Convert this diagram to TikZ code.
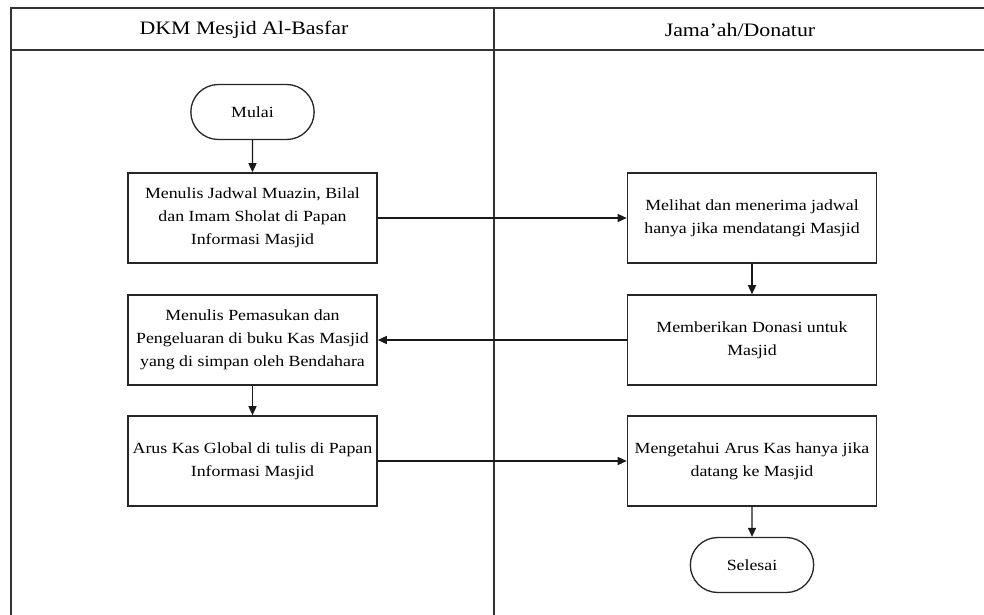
\documentclass[tikz,border=0pt]{standalone}
\usepackage{fontspec}
\setmainfont{Liberation Serif}[FakeStretch=1.15]
\usetikzlibrary{arrows.meta,shapes.misc}
\begin{document}
\begin{tikzpicture}[x=1pt,y=-1pt,
  lane/.style={draw=black!80,line width=1.4pt},
  procbox/.style={draw=black!85,line width=1.6pt,fill=white,minimum width=249pt,minimum height=90pt,
    align=center,font=\fontsize{15.5}{23}\selectfont,inner sep=1pt},
  terminal/.style={draw=black!85,line width=1.3pt,rounded rectangle,minimum width=130pt,minimum height=55pt,
    font=\fontsize{15.5}{18}\selectfont},
  head/.style={font=\fontsize{19}{22}\selectfont},
  flow/.style={draw=black!90,line width=1.4pt,-{Triangle[length=9pt,width=8pt]}}]
\useasboundingbox (0,0) rectangle (984,614);
\fill[white] (0,0) rectangle (984,614);
% swimlane table
\coordinate (tl) at (11,8);
\coordinate (tr) at (990,8);
\coordinate (bl) at (11,620);
\coordinate (hl) at (11,50);
\coordinate (hr) at (990,50);
\coordinate (dt) at (494,8);
\coordinate (db) at (494,620);
\draw[lane] (bl) -- (tl) -- (tr);
\draw[lane] (hl) -- (hr);
\draw[lane] (dt) -- (db);
\node[head] (h1) at (244,30) {DKM Mesjid Al-Basfar};
\node[head] (h2) at (740,30) {Jama’ah/Donatur};
% nodes
\node[terminal] (start) at (252.5,112) {Mulai};
\node[procbox] (b1) at (252.5,218) {Menulis Jadwal Muazin, Bilal\\dan Imam Sholat di Papan\\Informasi Masjid};
\node[procbox] (b2) at (252.5,340) {Menulis Pemasukan dan\\Pengeluaran di buku Kas Masjid\\yang di simpan oleh Bendahara};
\node[procbox] (b3) at (252.5,461) {Arus Kas Global di tulis di Papan\\Informasi Masjid};
\node[procbox] (b4) at (752,218) {Melihat dan menerima jadwal\\hanya jika mendatangi Masjid};
\node[procbox] (b5) at (752,340) {Memberikan Donasi untuk\\Masjid};
\node[procbox] (b6) at (752,461) {Mengetahui Arus Kas hanya jika\\datang ke Masjid};
\node[terminal] (end) at (752,565) {Selesai};
% connectors
\draw[flow] (start) -- (b1);
\draw[flow] (b1) -- (b4);
\draw[flow] (b4) -- (b5);
\draw[flow] (b5) -- (b2);
\draw[flow] (b2) -- (b3);
\draw[flow] (b3) -- (b6);
\draw[flow] (b6) -- (end);
\end{tikzpicture}
\end{document}
